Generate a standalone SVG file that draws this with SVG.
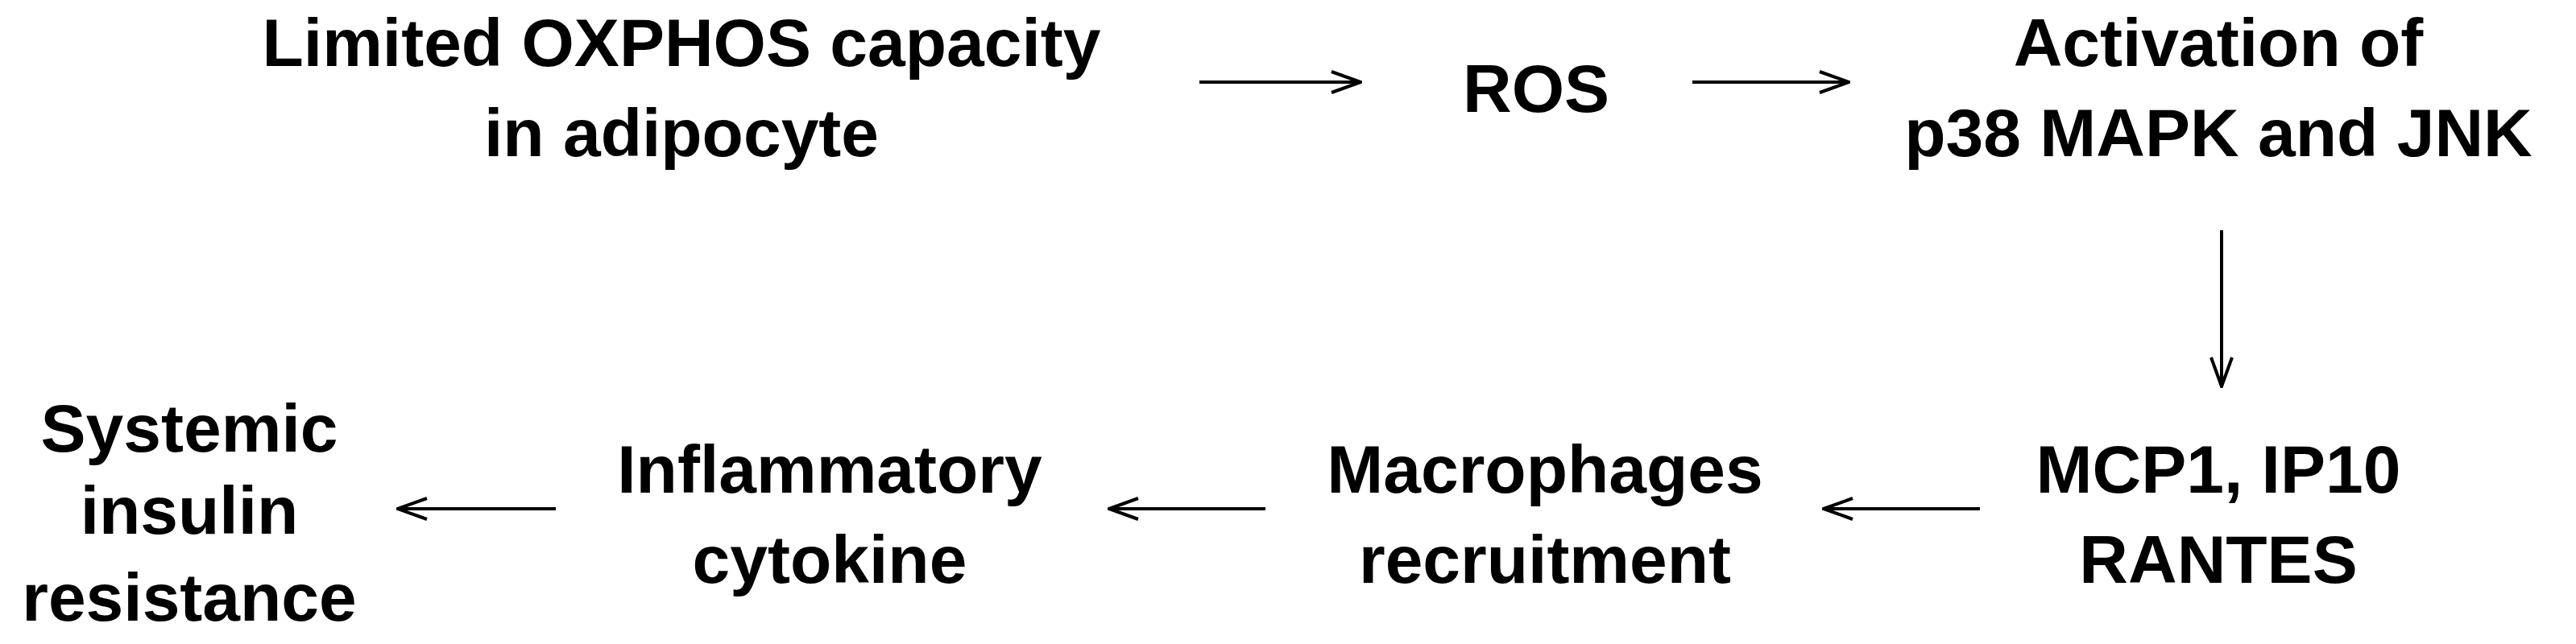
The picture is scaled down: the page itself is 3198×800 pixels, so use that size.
<svg xmlns="http://www.w3.org/2000/svg" width="3198" height="800" viewBox="0 0 3198 800">
<style>
text{font-family:"Liberation Sans",Arial,sans-serif;font-weight:bold;font-size:84px;fill:#000;text-anchor:middle}
line{stroke:#000;stroke-width:4}
</style>
<defs><marker id="a" markerWidth="40" markerHeight="30" refX="38" refY="15" orient="auto" markerUnits="userSpaceOnUse"><path d="M2,2 L38,15 L2,28" fill="none" stroke="#000" stroke-width="4"/></marker></defs>
<rect width="3198" height="800" fill="#fff"/>
<g id="n1"><text x="846" y="82">Limited OXPHOS capacity</text><text x="846" y="194">in adipocyte</text></g>
<g id="n2"><text x="1907" y="139">ROS</text></g>
<g id="n3"><text x="2754" y="82">Activation of</text><text x="2754" y="194">p38 MAPK and JNK</text></g>
<g id="n4"><text x="2754" y="612">MCP1, IP10</text><text x="2754" y="724">RANTES</text></g>
<g id="n5"><text x="1918" y="612">Macrophages</text><text x="1918" y="724">recruitment</text></g>
<g id="n6"><text x="1030" y="612">Inflammatory</text><text x="1030" y="724">cytokine</text></g>
<g id="n7"><text x="235" y="561">Systemic</text><text x="235" y="663">insulin</text><text x="235" y="771">resistance</text></g>
<g id="connectors" marker-end="url(#a)">
<line x1="1489" y1="102" x2="1689" y2="102" marker-end="url(#a)"/>
<line x1="2101" y1="102" x2="2295" y2="102" marker-end="url(#a)"/>
<line x1="2758" y1="286" x2="2758" y2="480" marker-end="url(#a)"/>
<line x1="2458" y1="632" x2="2264" y2="632" marker-end="url(#a)"/>
<line x1="1571" y1="632" x2="1377" y2="632" marker-end="url(#a)"/>
<line x1="690" y1="632" x2="494" y2="632" marker-end="url(#a)"/>
</g>
</svg>
